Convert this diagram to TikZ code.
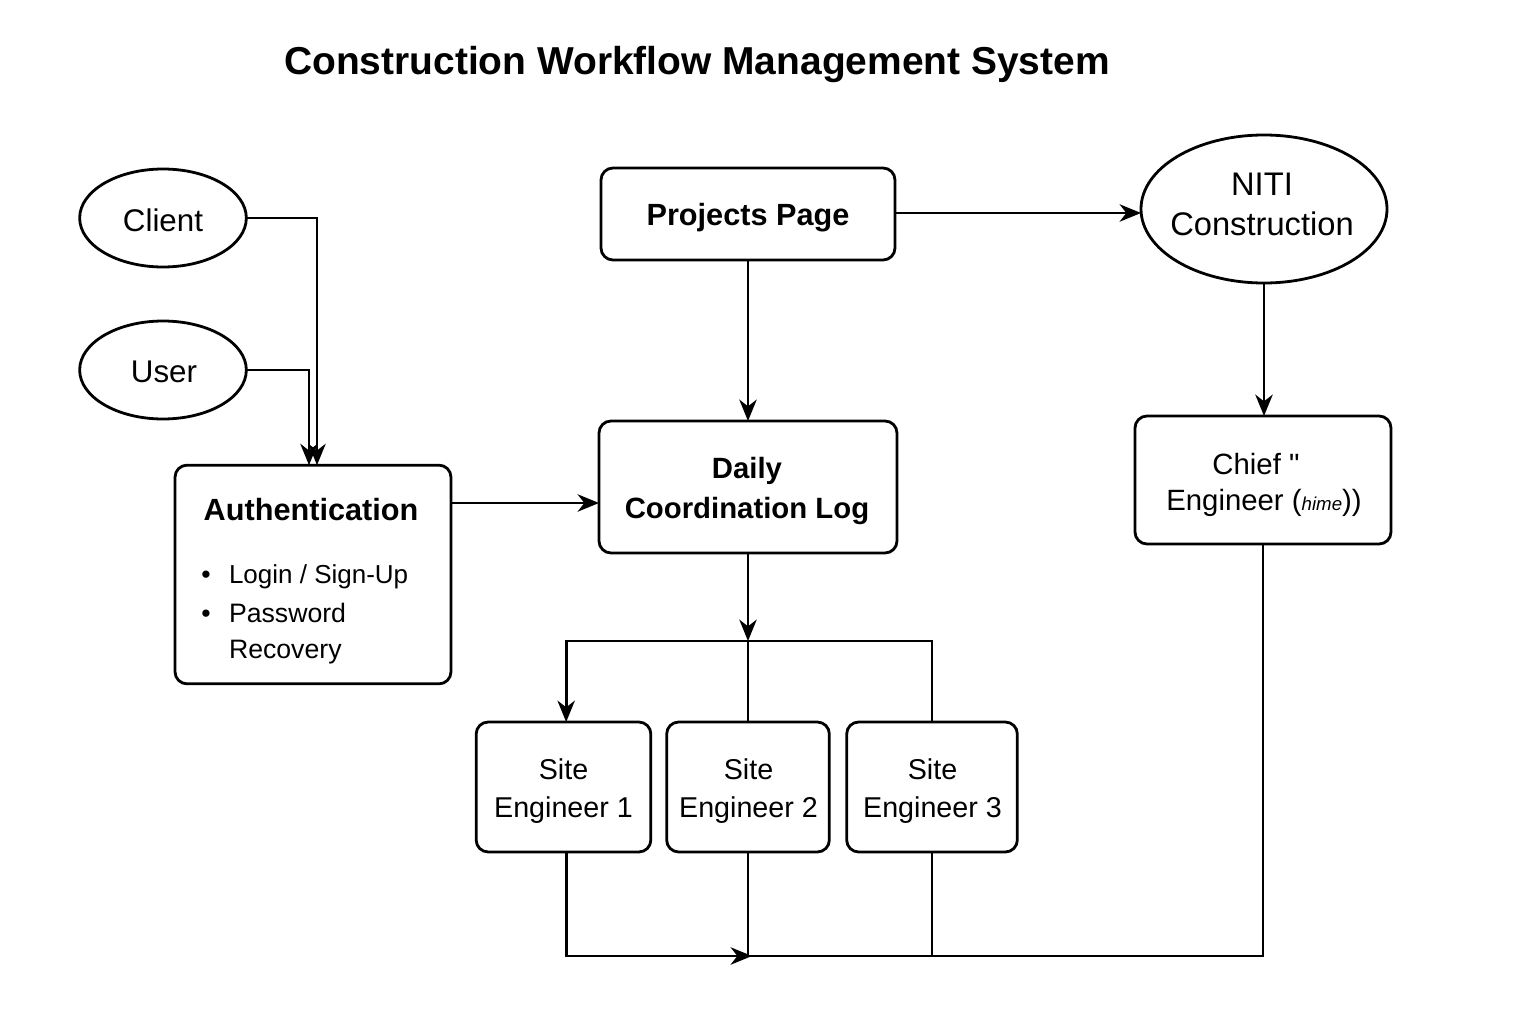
\documentclass[tikz,border=0pt]{standalone}
\usepackage{fontspec}
\setmainfont{Liberation Sans}
\usetikzlibrary{shapes.geometric,arrows.meta,calc}
\begin{document}
\begin{tikzpicture}[x=0.75pt,y=-0.75pt,
  every node/.style={inner sep=0pt,outer sep=0pt},
  ln/.style={line width=2.1pt,line join=miter},
  arr/.style={ln,-{Stealth[length=16pt,width=13pt,inset=5pt]}},
  ell/.style={ellipse,draw,line width=2.1pt},
  rbox/.style={draw,line width=2.1pt,rounded corners=9pt}
]
\useasboundingbox[fill=white] (0,0) rectangle (1536,1024);
\node[font=\fontsize{29.2}{30}\selectfont\bfseries] (title) at (697,65) {Construction Workflow Management System};

\node[ell,minimum width=125pt,minimum height=73.5pt] (client) at (163,218) {};
\node[font=\fontsize{23.5}{28}\selectfont] (clientt) at (163,220) {Client};
\node[ell,minimum width=125pt,minimum height=73.5pt] (user) at (163,370) {};
\node[font=\fontsize{23.5}{28}\selectfont] (usert) at (164,372) {User};

\node[rbox,minimum width=207pt,minimum height=164pt] (auth) at (313,574.5) {};
\node[font=\fontsize{23}{28}\selectfont\bfseries] (authtitle) at (311,510) {Authentication};
\node[font=\fontsize{20}{24}\selectfont] (b1) at (206,577) {\textbullet};
\node[font=\fontsize{20}{24}\selectfont] (b2) at (206,616) {\textbullet};
\node[font=\fontsize{19.5}{24}\selectfont,anchor=west] (t1) at (229,577) {Login / Sign-Up};
\node[font=\fontsize{20}{27}\selectfont,anchor=north west,align=left] (t2) at (229,603) {Password\\Recovery};

\node[rbox,minimum width=220.5pt,minimum height=69pt] (proj) at (748,214) {};
\node[font=\fontsize{23}{28}\selectfont\bfseries] (projt) at (748,218) {Projects Page};
\node[ell,minimum width=184.5pt,minimum height=111pt] (niti) at (1264,209) {};
\node[align=center,font=\fontsize{24.5}{30}\selectfont] (nitit) at (1262,204) {NITI\\Construction};
\node[rbox,minimum width=223.5pt,minimum height=99pt] (dcl) at (748,487) {};
\node[align=center,font=\fontsize{22}{29.5}\selectfont\bfseries] (dclt) at (747,491) {Daily\\Coordination Log};
\node[rbox,minimum width=192pt,minimum height=96pt] (chief) at (1263,480) {};
\node[font=\fontsize{22}{26}\selectfont] (chiefa) at (1256,464) {Chief \textquotedbl};
\node[font=\fontsize{22}{26}\selectfont] (chiefb) at (1264,503) {Engineer ({\fontsize{14}{14}\selectfont\itshape hime}))};

\node[rbox,minimum width=131pt,minimum height=97.5pt] (se1) at (563.5,787) {};
\node[rbox,minimum width=122pt,minimum height=97.5pt] (se2) at (748,787) {};
\node[rbox,minimum width=128pt,minimum height=97.5pt] (se3) at (932,787) {};
\node[align=center,font=\fontsize{21.5}{29}\selectfont] (se1t) at (563.5,791) {Site\\Engineer 1};
\node[align=center,font=\fontsize{21.5}{29}\selectfont] (se2t) at (748.5,791) {Site\\Engineer 2};
\node[align=center,font=\fontsize{21.5}{29}\selectfont] (se3t) at (932.5,791) {Site\\Engineer 3};

% connectors
\draw[arr] (client.east) -| ([xshift=3pt]auth.north);
\draw[arr] (user.east) -| ([xshift=-3pt]auth.north);
\draw[arr] (auth.east |- 0,503) -- (dcl.west |- 0,503);
\draw[arr] (proj.east |- 0,213) -- (niti.west |- 0,213);
\draw[arr] (proj.south) -- (dcl.north);
\draw[arr] (niti.south) -- (niti.south |- chief.north);

\coordinate (split) at (748,641);
\draw[arr] (dcl.south) -- (split);
\draw[ln] (split) -- (se2.north);
\draw[ln] (split) -| (se3.north);
\draw[arr] (split) -| ([xshift=2pt]se1.north);

\coordinate (bot) at (752,956);
\draw[ln] (se2.south) -- (se2.south |- bot);
\draw[ln] (se3.south) -- (se3.south |- bot);
\draw[ln] (chief.south) |- (se2.south |- bot);
\draw[arr] ([xshift=2pt]se1.south) |- (bot);
\end{tikzpicture}
\end{document}
